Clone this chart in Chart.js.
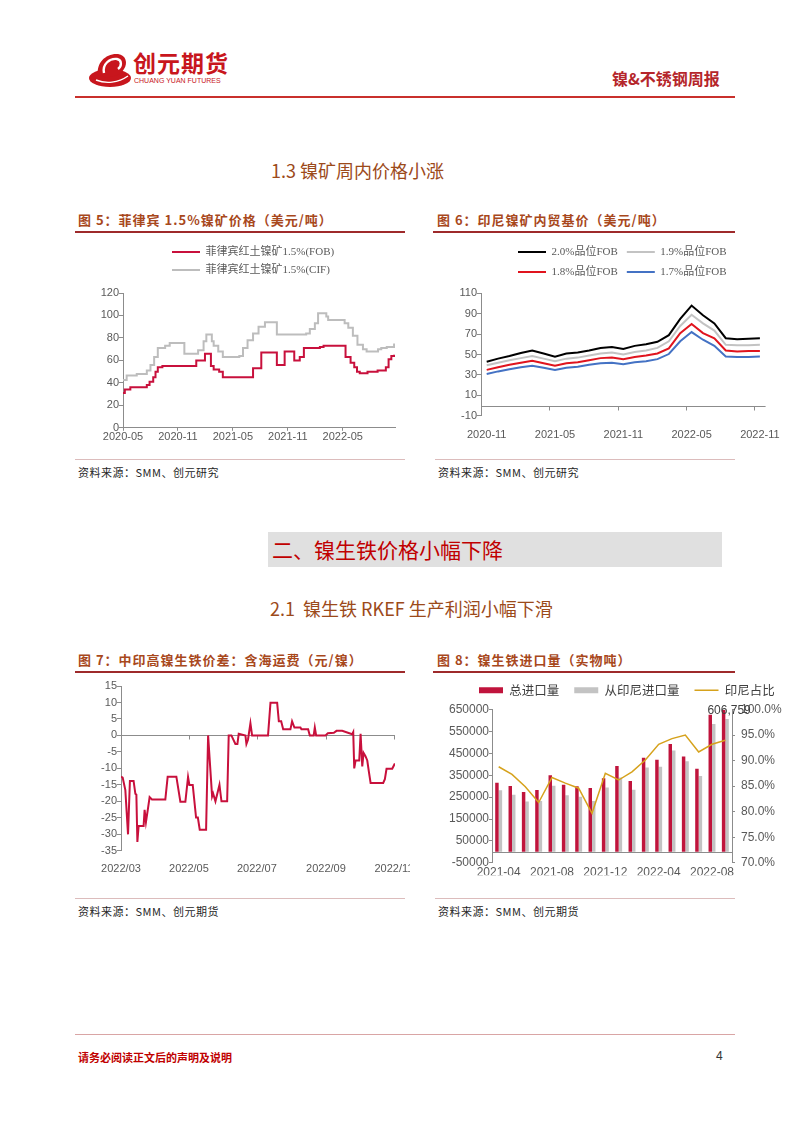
<!DOCTYPE html>
<html lang="zh-CN">
<head>
<meta charset="utf-8">
<title>镍&amp;不锈钢周报</title>
<script src="https://cdn.jsdelivr.net/npm/chart.js@4.4.1/dist/chart.umd.min.js"></script>
<style>
  html, body { margin: 0; padding: 0; background: #fff; overflow: hidden; }
  body { width: 802px; height: 1133px; position: relative; font-family: "Noto Sans CJK SC", sans-serif; }
  .abs { position: absolute; white-space: nowrap; }
  canvas { position: absolute; }
  .bar { position: absolute; }
  .fig-title { font-size: 13px; font-weight: 700; color: #a8481c; letter-spacing: 1px; line-height: 16px; }
  .fig-line { height: 2px; background: #9e2a2b; }
  .src-line { height: 1px; background: #dcbcbc; }
  .src { font-size: 11px; color: #262626; letter-spacing: 0.5px; line-height: 14px; }
  .h2 { font-size: 18px; color: #9c4a1a; line-height: 22px; }
</style>
</head>
<body>

<!-- header -->
<svg class="abs" style="left:88px;top:49px" width="46" height="40" viewBox="0 0 46 40">
  <ellipse cx="22" cy="29" rx="21" ry="9" fill="#c8161d"/>
  <path d="M10 26 C8 14 18 4 30 5 C38 6 40 14 36 20 C33 26 24 29 16 28 Z" fill="#c8161d"/>
  <path d="M16 24 C14 15 22 9 29 10 C34 11 34 17 30 20" stroke="#fff" stroke-width="2.4" fill="none"/>
  <path d="M8 31 C18 35 30 34 40 27" stroke="#fff" stroke-width="1.4" fill="none"/>
</svg>
<div class="abs" style="left:133px;top:49px;font-size:23px;font-weight:700;color:#c8161d;line-height:26px;letter-spacing:1px">创元期货</div>
<div class="abs" style="left:134px;top:77px;font-size:7px;color:#c8161d;line-height:8px;font-family:'Liberation Sans',Arial,sans-serif">CHUANG YUAN FUTURES</div>
<div class="abs" style="left:612px;top:68px;font-size:16px;font-weight:700;color:#b5262b;line-height:20px">镍&amp;不锈钢周报</div>
<div class="bar" style="left:75px;top:96px;width:660px;height:1.5px;background:#c9302c"></div>

<div class="abs h2" style="left:271px;top:159px">1.3 镍矿周内价格小涨</div>

<div class="abs fig-title" style="left:78px;top:212px">图 5：菲律宾 1.5%镍矿价格（美元/吨）</div>
<div class="bar fig-line" style="left:75px;top:231px;width:330px"></div>
<div class="abs fig-title" style="left:437px;top:212px">图 6：印尼镍矿内贸基价（美元/吨）</div>
<div class="bar fig-line" style="left:433px;top:231px;width:302px"></div>

<canvas id="c5" width="335" height="208" style="left:75px;top:236px"></canvas>
<canvas id="c6" width="350" height="213" style="left:435px;top:234px"></canvas>

<div class="bar src-line" style="left:75px;top:459px;width:330px"></div>
<div class="abs src" style="left:78px;top:465px">资料来源：SMM、创元研究</div>
<div class="bar src-line" style="left:435px;top:459px;width:300px"></div>
<div class="abs src" style="left:438px;top:465px">资料来源：SMM、创元研究</div>

<div class="bar" style="left:268px;top:532px;width:454px;height:35px;background:#e0e0e0"></div>
<div class="abs" style="left:272px;top:532px;font-size:21px;color:#c00000;line-height:35px">二、镍生铁价格小幅下降</div>

<div class="abs h2" style="left:270px;top:597px">2.1&nbsp; 镍生铁 RKEF 生产利润小幅下滑</div>

<div class="abs fig-title" style="left:78px;top:652px">图 7：中印高镍生铁价差：含海运费（元/镍）</div>
<div class="bar fig-line" style="left:75px;top:671px;width:330px"></div>
<div class="abs fig-title" style="left:437px;top:652px">图 8：镍生铁进口量（实物吨）</div>
<div class="bar fig-line" style="left:433px;top:671px;width:302px"></div>

<canvas id="c7" width="335" height="204" style="left:75px;top:676px"></canvas>
<canvas id="c8" width="365" height="208" style="left:435px;top:668px"></canvas>

<div class="bar src-line" style="left:75px;top:898px;width:330px"></div>
<div class="abs src" style="left:78px;top:904px">资料来源：SMM、创元期货</div>
<div class="bar src-line" style="left:435px;top:898px;width:300px"></div>
<div class="abs src" style="left:438px;top:904px">资料来源：SMM、创元期货</div>

<!-- footer -->
<div class="bar" style="left:75px;top:1034px;width:660px;height:1px;background:#d9a5a5"></div>
<div class="abs" style="left:78px;top:1050px;font-size:11px;font-weight:700;color:#c00000;line-height:14px">请务必阅读正文后的声明及说明</div>
<div class="abs" style="left:716px;top:1049px;font-size:12px;color:#333;line-height:14px;font-family:'Liberation Sans',Arial,sans-serif">4</div>

<script>
// ---- 图5 菲律宾1.5%镍矿价格 (x = months since 2020-05) ----
const c5TickMonths = [0, 6, 12, 18, 24];
const c5TickLabels = ['2020-05', '2020-11', '2021-05', '2021-11', '2022-05'];
const fobMonths = [0, 0.2, 0.8, 2.6, 2.9, 3.3, 3.55, 3.8, 4.3, 8.0, 8.95, 9.6, 9.9, 10.5, 10.9,
  14.2, 15.1, 16.8, 17.65, 18.7, 19.3, 19.75, 21.5, 21.9, 24.3, 24.85, 25.25, 25.55, 25.85,
  26.7, 27.8, 28.7, 29.0, 29.3, 29.6];
const fobValues = [31, 34, 36, 38, 41, 45, 50, 54, 55, 60, 66, 55, 52, 50, 45,
  53, 67, 56, 68, 60, 63, 71, 72, 73, 63, 58, 54, 50, 48.5,
  50, 51, 54, 61, 64, 65];
const cifMonths = [0, 0.4, 1.5, 2.6, 3.0, 3.4, 3.8, 4.6, 5.1, 6.7, 8.2, 8.8, 9.1, 9.7, 9.9,
  10.4, 10.9, 12.7, 13.1, 13.6, 14.2, 14.8, 15.5, 16.8, 20.0, 20.4, 20.95, 21.3, 22.2, 22.4,
  24.2, 24.6, 25.1, 25.6, 26.2, 26.6, 27.85, 28.2, 28.8, 29.6];
const cifValues = [42.5, 46.5, 48, 51, 56, 63, 71, 73, 75.5, 66, 69, 77, 83, 77, 73,
  68, 63, 64, 71, 78, 84, 90, 94, 83, 84, 88, 93, 102, 99, 96,
  93, 89, 82, 74, 70, 68, 70, 71, 72, 75];

// ---- 图6 印尼镍矿内贸基价 ----
const c6Months = ['2020-11', '2020-12', '2021-01', '2021-02', '2021-03', '2021-04', '2021-05',
  '2021-06', '2021-07', '2021-08', '2021-09', '2021-10', '2021-11', '2021-12', '2022-01',
  '2022-02', '2022-03', '2022-04', '2022-05', '2022-06', '2022-07', '2022-08', '2022-09',
  '2022-10', '2022-11'];
const grade20 = [43, 46, 48.5, 51.5, 54, 51, 48, 51, 52, 54, 56.5, 57.5, 55.5, 58.5, 60, 62.5, 69, 85, 98, 88.5, 80.5, 66, 65, 65.5, 66];
const grade19 = [39.5, 42, 44.5, 46.5, 48.5, 46, 43.5, 46, 47, 49, 51, 52, 50, 52.5, 54, 56.5, 63, 78, 89, 80.5, 73.5, 59.5, 59, 59, 59.5];
const grade18 = [35, 37.5, 40, 42, 44, 41.5, 39, 41.5, 42.5, 44.5, 46.5, 47, 45.5, 47.5, 49, 51, 56, 71, 80, 71, 66, 54, 53, 53.5, 53.5];
const grade17 = [31, 33.5, 35.5, 37.5, 39, 37, 35, 37, 38, 40, 41.5, 42, 40.5, 42.5, 43.5, 45.5, 50.5, 63, 72, 64.5, 58.5, 48, 47.5, 47.5, 48];

// ---- 图7 中印高镍生铁价差 (x = days since 2022-03-01) ----
const c7TickDays = [0, 61, 122, 184, 245];
const c7TickLabels = ['2022/03', '2022/05', '2022/07', '2022/09', '2022/11'];
const c7Days = [0, 1.5, 3.9, 6.3, 8, 11.3, 12.9, 13.8, 14.7, 15.8,
  20.3, 21.2, 22.4, 24.2, 25.7, 27.8, 39.8, 41.9, 49.7, 53.3,
  57.8, 60.2, 61.4, 64.4, 67.4, 69, 70.7, 76.4, 78.2, 81.8,
  82.7, 84.8, 88.4, 90.2, 95.3, 96.7, 99.1, 102.7, 104.5, 105.7,
  111.7, 112.6, 114, 116.2, 117.7, 132, 134.2, 140.2, 141.7, 143.8,
  145.6, 152.1, 153.6, 155.7, 161.1, 162, 168, 169.5, 173, 174,
  175.2, 183.6, 185.7, 191.1, 193.5, 198.6, 207.6, 208.5, 209.4, 210.6,
  213.9, 215.1, 216.6, 217.8, 219.5, 221.1, 222.6, 224.1, 235.4, 236.9,
  238.4, 243.5, 245.9];
const c7Values = [-12.5, -12.8, -16.6, -30, -13.8, -13.8, -17.7, -18, -32.3, -27.5,
  -27.5, -22.6, -26.3, -22.2, -18.7, -19.4, -19.4, -12.5, -12.5, -20.1,
  -20.1, -12.6, -15, -15, -24.9, -24.9, -28.6, -28.6, 0, -18.5,
  -17.6, -20, -15, -20, -20, 0, 0, -2.6, -2.6, 0.5,
  0, -2.6, -1.3, 3.7, 0, 0, 9.9, 9.9, 4.3, 4.3,
  1.85, 1.85, 4.3, 2.4, 2.4, 1.85, 1.85, 0, 0, 2.4,
  0, 0, 0.65, 0.83, 1.4, 1.4, 0.37, 1.0, -10, -7.6,
  -7.6, 0.5, -9.4, -5.3, -6.3, -7.6, -11.1, -14.4, -14.4, -13.3,
  -10.1, -10.1, -8.5];

// ---- 图8 镍生铁进口量 ----
const c8Months = ['2021-04', '2021-05', '2021-06', '2021-07', '2021-08', '2021-09', '2021-10',
  '2021-11', '2021-12', '2022-01', '2022-02', '2022-03', '2022-04', '2022-05', '2022-06',
  '2022-07', '2022-08', '2022-09'];
const totalImport = [315000, 301000, 273000, 282000, 350000, 306000, 300000, 291000, 336000,
  392000, 324000, 430000, 420000, 493000, 435000, 380000, 626000, 648000];
const fromIndonesia = [281000, 261000, 230000, 232000, 302000, 258000, 252000, 232000, 294000,
  340000, 283000, 385000, 389000, 463000, 414000, 346000, 584000, 606759];
const indonesiaShare = [88.8, 87.3, 84.9, 81.8, 86.7, 85.6, 84.6, 79.7, 87.5,
  86.2, 87.8, 90.1, 93.2, 94.3, 95.0, 91.7, 93.2, 94.0];

Chart.defaults.font.family = "'Liberation Sans', Arial, sans-serif";
Chart.defaults.font.size = 11;
Chart.defaults.color = '#595959';
Chart.defaults.animation = false;
Chart.defaults.responsive = false;
Chart.defaults.plugins.tooltip.enabled = false;

const AXIS = '#8c8c8c';
const SERIF = "'Liberation Serif', 'Noto Sans CJK SC', serif";

// legend rows start at startX (canvas px); extra gap below legend
function legendPlace(startX, extra) {
  return {
    id: 'legendPlace',
    beforeLayout(chart) {
      const lg = chart.legend;
      if (!lg || lg._placed) return;
      const fit = lg.fit;
      lg.fit = function () { fit.call(this); this.height += extra; };
      lg._placed = true;
    },
    afterLayout(chart) {
      const lg = chart.legend;
      lg.left = startX - lg.options.labels.padding;
    }
  };
}

// horizontal axis line at value 0, with small tick marks below it
function zeroAxis(tickPixels) {
  return {
    id: 'zeroAxis',
    beforeDatasetsDraw(chart) {
      const { ctx, chartArea, scales } = chart;
      const y0 = Math.round(scales.y.getPixelForValue(0)) + 0.5;
      ctx.save();
      ctx.strokeStyle = AXIS;
      ctx.lineWidth = 1;
      ctx.beginPath();
      ctx.moveTo(chartArea.left, y0);
      ctx.lineTo(chartArea.right, y0);
      tickPixels(scales.x).forEach(x => {
        const px = Math.round(x) + 0.5;
        ctx.moveTo(px, y0);
        ctx.lineTo(px, y0 + 4);
      });
      ctx.stroke();
      ctx.restore();
    }
  };
}

const lineLegend = (pad, width) => ({
  align: 'start',
  labels: {
    usePointStyle: true, pointStyleWidth: width, padding: pad,
    color: '#595959', font: { family: SERIF, size: 11 }
  }
});

const yTicksGrid = { drawOnChartArea: false, tickLength: 4, color: AXIS };

// 图5
new Chart(document.getElementById('c5'), {
  type: 'line',
  data: {
    datasets: [
      { label: '菲律宾红土镍矿1.5%(FOB)', data: fobMonths.map((m, i) => ({ x: m, y: fobValues[i] })),
        borderColor: '#c8103c', borderWidth: 2, stepped: true, pointRadius: 0, pointStyle: 'line', pointBorderWidth: 2 },
      { label: '菲律宾红土镍矿1.5%(CIF)', data: cifMonths.map((m, i) => ({ x: m, y: cifValues[i] })),
        borderColor: '#bdbdbd', borderWidth: 2, stepped: true, pointRadius: 0, pointStyle: 'line', pointBorderWidth: 2 }
    ]
  },
  options: {
    layout: { padding: { top: 3.5, left: 0, right: 15, bottom: 0 } },
    plugins: { legend: lineLegend(7, 28) },
    scales: {
      x: {
        type: 'linear', min: 0, max: 29.7,
        afterBuildTicks: s => { s.ticks = c5TickMonths.map(v => ({ value: v })); },
        ticks: { autoSkip: false, maxRotation: 0, padding: 0, callback: v => c5TickLabels[c5TickMonths.indexOf(v)] },
        grid: { drawOnChartArea: false, tickLength: 3, color: AXIS },
        border: { color: AXIS }
      },
      y: {
        min: 0, max: 120,
        ticks: { stepSize: 20, padding: 0 },
        afterFit: s => { s.width = 48; },
        grid: yTicksGrid, border: { color: AXIS }
      }
    }
  },
  plugins: [legendPlace(97, 7.5)]
});

// 图6
const c6Line = (label, data, color) => ({
  label, data, borderColor: color, borderWidth: 2, pointRadius: 0, pointStyle: 'line', pointBorderWidth: 2
});
new Chart(document.getElementById('c6'), {
  type: 'line',
  data: {
    labels: c6Months,
    datasets: [
      c6Line('2.0%品位FOB', grade20, '#000000'),
      c6Line('1.9%品位FOB', grade19, '#c3c3c3'),
      c6Line('1.8%品位FOB', grade18, '#e0141e'),
      c6Line('1.7%品位FOB', grade17, '#4472c4')
    ]
  },
  options: {
    layout: { padding: { top: 3.5, left: 0, right: 16, bottom: 0 } },
    plugins: { legend: lineLegend(9, 28) },
    scales: {
      x: {
        offset: true,
        ticks: { autoSkip: false, maxRotation: 0, padding: 5, callback: (v, i) => (i % 6 === 0 ? c6Months[i] : null) },
        grid: { display: false }, border: { display: false }
      },
      y: {
        min: -10, max: 110,
        ticks: { stepSize: 20, padding: 0 },
        afterFit: s => { s.width = 46; },
        grid: yTicksGrid, border: { color: AXIS }
      }
    }
  },
  plugins: [legendPlace(83, 5.8), zeroAxis(x => [6, 12, 18, 24].map(i => (x.getPixelForValue(i) + x.getPixelForValue(i - 1)) / 2))]
});

// 图7
new Chart(document.getElementById('c7'), {
  type: 'line',
  data: {
    datasets: [{
      label: '中印高镍生铁价差', data: c7Days.map((d, i) => ({ x: d, y: c7Values[i] })),
      borderColor: '#c8103c', borderWidth: 2, pointRadius: 0
    }]
  },
  options: {
    layout: { padding: { top: 10, left: 0, right: 15, bottom: 0 } },
    plugins: { legend: { display: false } },
    scales: {
      x: {
        type: 'linear', min: 0, max: 246,
        afterBuildTicks: s => { s.ticks = c7TickDays.map(v => ({ value: v })); },
        afterFit: s => { s.paddingRight = 0; },
        ticks: { autoSkip: false, maxRotation: 0, padding: 4, callback: v => c7TickLabels[c7TickDays.indexOf(v)] },
        grid: { display: false }, border: { display: false }
      },
      y: {
        min: -35, max: 15,
        ticks: { stepSize: 5, padding: 0 },
        afterFit: s => { s.width = 46; },
        grid: yTicksGrid, border: { color: AXIS }
      }
    }
  },
  plugins: [zeroAxis(x => c7TickDays.slice(1).map(d => x.getPixelForValue(d)))]
});

// 图8
const lastLabel = {
  id: 'lastLabel',
  afterDatasetsDraw(chart) {
    const i = fromIndonesia.length - 1;
    const bar = chart.getDatasetMeta(1).data[i];
    const { ctx } = chart;
    ctx.save();
    ctx.font = "12px 'Liberation Sans', Arial, sans-serif";
    ctx.fillStyle = '#404040';
    ctx.textAlign = 'center';
    ctx.textBaseline = 'bottom';
    ctx.fillText(fromIndonesia[i].toLocaleString('en-US'), bar.x + 2, bar.y - 2);
    ctx.restore();
  }
};
new Chart(document.getElementById('c8'), {
  type: 'bar',
  data: {
    labels: c8Months,
    datasets: [
      { label: '总进口量', data: totalImport, backgroundColor: '#c0143c', borderWidth: 0, pointStyle: 'rect',
        categoryPercentage: 0.52, barPercentage: 1, order: 1 },
      { label: '从印尼进口量', data: fromIndonesia, backgroundColor: '#c3c3c3', borderWidth: 0, pointStyle: 'rect',
        categoryPercentage: 0.52, barPercentage: 1, order: 1 },
      { type: 'line', label: '印尼占比', data: indonesiaShare, yAxisID: 'y1', borderColor: '#d6a21c',
        borderWidth: 1.5, pointRadius: 0, pointStyle: 'line', pointBorderWidth: 1.5, order: 0 }
    ]
  },
  options: {
    layout: { padding: { top: 1, left: 0, right: 0, bottom: 0 } },
    plugins: {
      legend: {
        align: 'start',
        labels: {
          usePointStyle: true, pointStyleWidth: 24, boxHeight: 6, padding: 15, color: '#404040',
          font: { family: "'Noto Sans CJK SC', sans-serif", size: 12.5 },
          sort: (a, b) => a.datasetIndex - b.datasetIndex
        }
      }
    },
    scales: {
      x: {
        ticks: { autoSkip: false, maxRotation: 0, padding: -5, font: { size: 12 }, callback: (v, i) => (i % 4 === 0 ? c8Months[i] : null) },
        grid: { display: false }, border: { display: false }
      },
      y: {
        min: -50000, max: 650000,
        ticks: { stepSize: 100000, padding: 0, font: { size: 12 }, callback: v => String(v) },
        afterFit: s => { s.width = 57; },
        grid: { drawOnChartArea: false, tickLength: 3, color: AXIS }, border: { color: AXIS }
      },
      y1: {
        position: 'right', min: 70, max: 100,
        ticks: { stepSize: 5, padding: 6, font: { size: 12 }, callback: v => v.toFixed(1) + '%' },
        afterFit: s => { s.width = 68; },
        grid: { drawOnChartArea: false, tickLength: 3, color: AXIS }, border: { color: AXIS }
      }
    }
  },
  plugins: [legendPlace(44, 3), zeroAxis(() => []), lastLabel]
});
</script>
</body>
</html>
